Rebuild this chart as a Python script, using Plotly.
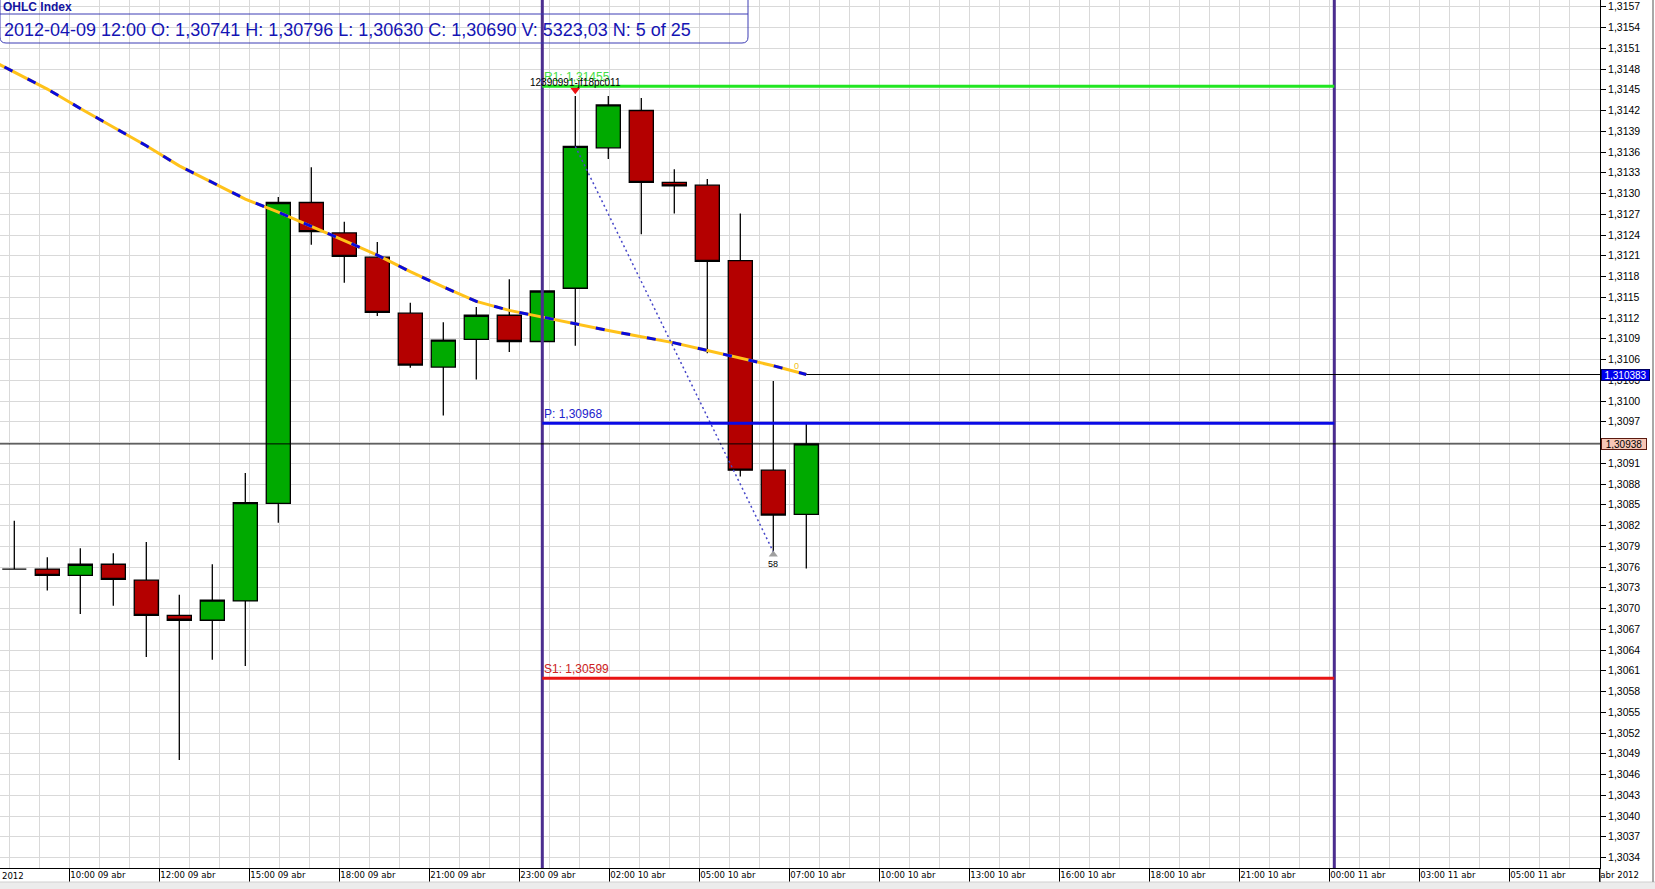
import plotly.graph_objects as go

# ---------------- data ----------------
bar_index = list(range(25))            # hourly bars, 09 abr 08:00 ... 10 abr 08:00
opens  = [1.30757, 1.30757, 1.30748, 1.30764, 1.30741, 1.30690, 1.30683, 1.30711, 1.30852, 1.31287,
          1.31243, 1.31208, 1.31127, 1.31049, 1.31089, 1.31124, 1.31086, 1.31163, 1.31366, 1.31420,
          1.31316, 1.31312, 1.31203, 1.30900, 1.30836]
highs  = [1.30827, 1.30774, 1.30787, 1.30780, 1.30796, 1.30720, 1.30764, 1.30896, 1.31295, 1.31338,
          1.31259, 1.31230, 1.31142, 1.31114, 1.31136, 1.31176, 1.31171, 1.31441, 1.31441, 1.31438,
          1.31335, 1.31321, 1.31271, 1.31029, 1.30968]
lows   = [1.30757, 1.30726, 1.30692, 1.30704, 1.30630, 1.30481, 1.30626, 1.30617, 1.30824, 1.31226,
          1.31171, 1.31123, 1.31048, 1.30979, 1.31031, 1.31071, 1.31080, 1.31080, 1.31350, 1.31241,
          1.31271, 1.31069, 1.30891, 1.30782, 1.30758]
closes = [1.30757, 1.30748, 1.30764, 1.30742, 1.30690, 1.30683, 1.30712, 1.30853, 1.31287, 1.31245,
          1.31209, 1.31128, 1.31052, 1.31088, 1.31124, 1.31086, 1.31159, 1.31368, 1.31428, 1.31316,
          1.31311, 1.31202, 1.30900, 1.30835, 1.30938]

ma_index = list(range(-1, 25))
ma_values = [1.31500, 1.31476, 1.31451, 1.31423, 1.31396, 1.31369, 1.31340, 1.31316, 1.31292, 1.31273,
             1.31253, 1.31232, 1.31211, 1.31187, 1.31165, 1.31144, 1.31131, 1.31121, 1.31111, 1.31102,
             1.31093, 1.31084, 1.31073, 1.31062, 1.31051, 1.310383]

x_tick_labels = ["10:00 09 abr", "12:00 09 abr", "15:00 09 abr", "18:00 09 abr", "21:00 09 abr",
                 "23:00 09 abr", "02:00 10 abr", "05:00 10 abr", "07:00 10 abr", "10:00 10 abr",
                 "13:00 10 abr", "16:00 10 abr", "18:00 10 abr", "21:00 10 abr", "00:00 11 abr",
                 "03:00 11 abr", "05:00 11 abr", "abr 2012"]

pivot_R1 = 1.31455
pivot_P = 1.30968
pivot_S1 = 1.30599
last_price = 1.30938
ma_last = 1.310383
session_start_bar = 16
session_end_bar = 40
swing_from = (17, 1.31368)
swing_to = (23, 1.30782)
swing_count = "58"
order_label = "12390991-jf18pc011"
header_bar = 4
header_date = "2012-04-09 12:00"
header_volume = "5323,03"
y_tick0, y_dtick = 1.3034, 0.0003

# ---------------- geometry (pixels) ----------------
W, H = 1655, 889
PLOT_W, PLOT_H = 1600, 868
BAR_PX = 33.0
BAR0_PX = 14.3
PX_PER_PRICE = 69167.0
REF_PRICE, REF_PX = 1.3082, 525.5

x_lo = -BAR0_PX / BAR_PX
x_hi = (PLOT_W - BAR0_PX) / BAR_PX
y_hi = REF_PRICE + REF_PX / PX_PER_PRICE
y_lo = REF_PRICE - (PLOT_H - REF_PX) / PX_PER_PRICE

label_tick_vals = [(55 + 90 * m) / BAR_PX for m in range(len(x_tick_labels))]
grid_vals = [(-5 + 30 * k) / BAR_PX for k in range(54)]

def px(p):
    return p / PLOT_W

def py(p):
    return 1 - p / PLOT_H

def fmt(v, d=5):
    return f"{v:.{d}f}".replace(".", ",")

GRID = "#d9d9d9"
FONT = "Liberation Sans, Arial, sans-serif"
NARROW = "DejaVu Sans Condensed, Liberation Sans Narrow, Arial Narrow, sans-serif"

fig = go.Figure()

fig.add_trace(go.Candlestick(
    x=bar_index, open=opens, high=highs, low=lows, close=closes,
    increasing=dict(fillcolor="#00aa00", line=dict(color="#000000", width=1.3)),
    decreasing=dict(fillcolor="#b40000", line=dict(color="#000000", width=1.3)),
    whiskerwidth=0, hoverinfo="skip", name="OHLC",
))

fig.add_trace(go.Scatter(x=ma_index, y=ma_values, mode="lines",
                         line=dict(color="#ffc21a", width=3), hoverinfo="skip"))
fig.add_trace(go.Scatter(x=ma_index, y=ma_values, mode="lines",
                         line=dict(color="#0a0adc", width=3, dash="9px,17px"), hoverinfo="skip"))

fig.add_trace(go.Scatter(x=[swing_from[0], swing_to[0]], y=[swing_from[1], swing_to[1]], mode="lines",
                         line=dict(color="#4646c8", width=1.5, dash="2px,3px"), hoverinfo="skip"))

fig.add_trace(go.Scatter(x=[17], y=[1.31450], mode="markers",
                         marker=dict(symbol="triangle-down", size=9, color="#ee1111"), hoverinfo="skip"))
fig.add_trace(go.Scatter(x=[23], y=[1.30778], mode="markers",
                         marker=dict(symbol="triangle-up", size=8, color="#a0a0a0"), hoverinfo="skip"))

shapes = []
# session separators
for b in (session_start_bar, session_end_bar):
    shapes.append(dict(type="line", xref="x", yref="paper", x0=b, x1=b, y0=0, y1=1,
                       line=dict(color="#4b2d8f", width=3)))
# pivot lines
for lvl, col in ((pivot_R1, "#22e622"), (pivot_P, "#0a0ae6"), (pivot_S1, "#e81414")):
    shapes.append(dict(type="line", xref="x", yref="y", x0=session_start_bar, x1=session_end_bar,
                       y0=lvl, y1=lvl, line=dict(color=col, width=3)))
# last price line
shapes.append(dict(type="line", xref="paper", yref="y", x0=0, x1=1, y0=last_price, y1=last_price,
                   line=dict(color="#000000", width=1)))
# MA last value line
shapes.append(dict(type="line", xref="x", yref="y", x0=24, x1=x_hi, y0=ma_last, y1=ma_last,
                   line=dict(color="#000000", width=1)))
# header box
r = 6
hb = 748
path = (f"M {px(0)},{py(0)} L {px(0)},{py(43 - r)} Q {px(0)},{py(43)} {px(r)},{py(43)} "
        f"L {px(hb - r)},{py(43)} Q {px(hb)},{py(43)} {px(hb)},{py(43 - r)} L {px(hb)},{py(0)}")
shapes.append(dict(type="path", xref="paper", yref="paper", path=path,
                   line=dict(color="#3c3cb4", width=1)))
shapes.append(dict(type="line", xref="paper", yref="paper", x0=px(0), x1=px(hb), y0=py(14), y1=py(14),
                   line=dict(color="#3c3cb4", width=1)))
# window frame bits
shapes.append(dict(type="rect", xref="paper", yref="paper", x0=px(0), x1=px(W), y0=py(882), y1=py(H + 2),
                   fillcolor="#ececec", line=dict(width=0), layer="below"))
shapes.append(dict(type="line", xref="paper", yref="paper", x0=px(0), x1=px(W), y0=py(882), y1=py(882),
                   line=dict(color="#d0d0d0", width=1)))
shapes.append(dict(type="line", xref="paper", yref="paper", x0=px(1653), x1=px(1653), y0=py(0), y1=py(882),
                   line=dict(color="#a8a8a8", width=2)))
shapes.append(dict(type="line", xref="paper", yref="paper", x0=1, x1=1, y0=py(PLOT_H), y1=py(882),
                   line=dict(color="#000000", width=1)))

header_text = (f"{header_date} O: {fmt(opens[header_bar])} H: {fmt(highs[header_bar])} "
               f"L: {fmt(lows[header_bar])} C: {fmt(closes[header_bar])} V: {header_volume} "
               f"N: {header_bar + 1} of {len(bar_index)}")

annotations = [
    dict(text="<b>OHLC Index</b>", xref="paper", yref="paper", x=px(1), y=py(7), xanchor="left",
         yanchor="middle", showarrow=False, font=dict(family=FONT, size=12, color="#1414a0")),
    dict(text=header_text, xref="paper", yref="paper", x=px(2), y=py(29.5), xanchor="left",
         yanchor="middle", showarrow=False, font=dict(family=FONT, size=18, color="#1414b4")),
    dict(text="R1: " + fmt(pivot_R1), xref="x", yref="y", x=session_start_bar, y=pivot_R1, xanchor="left",
         yanchor="bottom", showarrow=False, font=dict(family=FONT, size=12, color="#44dd44")),
    dict(text=order_label, xref="x", yref="y", x=17, y=1.31461, xanchor="center", yanchor="middle",
         showarrow=False, font=dict(family=FONT, size=10, color="#000000")),
    dict(text="P: " + fmt(pivot_P), xref="x", yref="y", x=session_start_bar, y=pivot_P, xanchor="left",
         yanchor="bottom", showarrow=False, font=dict(family=FONT, size=12, color="#2222cc")),
    dict(text="S1: " + fmt(pivot_S1), xref="x", yref="y", x=session_start_bar, y=pivot_S1, xanchor="left",
         yanchor="bottom", showarrow=False, font=dict(family=FONT, size=12, color="#cc2222")),
    dict(text=swing_count, xref="x", yref="y", x=23, y=1.30764, xanchor="center", yanchor="middle",
         showarrow=False, font=dict(family=FONT, size=9, color="#000000")),
    dict(text="0", xref="x", yref="y", x=23.71, y=1.31050, xanchor="center", yanchor="middle",
         showarrow=False, font=dict(family=FONT, size=9, color="#f0c020")),
    dict(text=fmt(ma_last, 6), xref="paper", yref="y", x=1, y=ma_last, xanchor="left", yanchor="middle",
         xshift=1, showarrow=False, bgcolor="#0000ee", bordercolor="#000060", borderwidth=1, borderpad=0,
         width=47, height=10, font=dict(family=FONT, size=10, color="#ffffff")),
    dict(text=fmt(last_price), xref="paper", yref="y", x=1, y=last_price, xanchor="left", yanchor="middle",
         xshift=1, showarrow=False, bgcolor="#f7c6b6", bordercolor="#5a1a10", borderwidth=1, borderpad=0,
         width=44, height=10, font=dict(family=FONT, size=10, color="#000000")),
    dict(text="2012", xref="paper", yref="paper", x=0, y=py(875), xanchor="left", yanchor="middle",
         showarrow=False, font=dict(family=NARROW, size=9.5, color="#000000")),
]

fig.update_layout(
    width=W, height=H,
    margin=dict(l=0, r=W - PLOT_W, t=0, b=H - PLOT_H, pad=0),
    paper_bgcolor="#ffffff", plot_bgcolor="#ffffff",
    showlegend=False, separators=", ",
    boxgap=0.27, boxgroupgap=0,
    shapes=shapes, annotations=annotations,
    font=dict(family=FONT, color="#000000"),
)

fig.update_xaxes(
    range=[x_lo, x_hi], rangeslider_visible=False,
    tickmode="array", tickvals=label_tick_vals, ticktext=x_tick_labels,
    ticks="outside", ticklen=13, tickwidth=1, tickcolor="#000000",
    ticklabelposition="outside right", ticklabelstandoff=-2, ticklabeloverflow="allow",
    tickfont=dict(family=NARROW, size=9.5, color="#000000"),
    showline=True, linecolor="#000000", linewidth=1,
    showgrid=True, gridcolor=GRID, gridwidth=1, zeroline=False,
    minor=dict(tickmode="array", tickvals=grid_vals, showgrid=True, gridcolor=GRID, gridwidth=1, ticks=""),
)
fig.update_yaxes(
    side="right", range=[y_lo, y_hi],
    tick0=y_tick0, dtick=y_dtick, tickformat=".4f",
    ticks="outside", ticklen=5, tickwidth=1, tickcolor="#000000",
    ticklabeloverflow="allow",
    tickfont=dict(family=FONT, size=10.5, color="#000000"),
    showline=True, linecolor="#000000", linewidth=1,
    showgrid=True, gridcolor=GRID, gridwidth=1, zeroline=False,
)

fig.write_html("out.html", config={"displayModeBar": False},
               post_script="document.body.style.margin='0';document.body.style.overflow='hidden';")
